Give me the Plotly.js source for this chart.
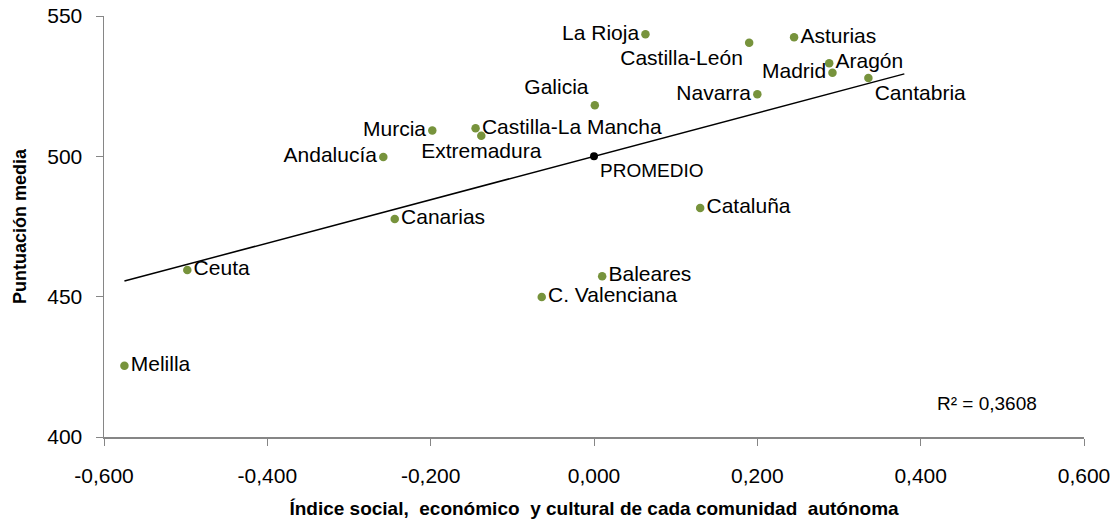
<!DOCTYPE html>
<html>
<head>
<meta charset="utf-8">
<script src="https://cdn.plot.ly/plotly-3.0.1.min.js"></script>
<style>html,body{margin:0;padding:0;background:#fff;}#chart{width:1118px;height:522px;}</style>
</head>
<body>
<div id="chart"></div>
<script>
// Data
const regions = ["Melilla","Ceuta","Andalucía","Murcia","Castilla-La Mancha","Extremadura","Galicia","La Rioja","Castilla-León","Asturias","Aragón","Madrid","Cantabria","Navarra","Cataluña","Canarias","Baleares","C. Valenciana"];
const indexValues = [-0.575,-0.498,-0.258,-0.198,-0.145,-0.138,0.001,0.063,0.190,0.245,0.288,0.292,0.336,0.200,0.130,-0.244,0.010,-0.064];
const scoreValues = [425.4,459.5,499.8,509.2,510.0,507.3,518.2,543.5,540.5,542.4,533.2,529.8,527.9,522.1,481.6,477.7,457.3,449.9];
const averageLabel = ["PROMEDIO"];
const averageIndex = [0];
const averageScore = [500];
// Trend line (as drawn in the reference): y = intercept + slope * x
const trendSlope = 77.3;
const trendIntercept = 500.0;
const trendXRange = [-0.575, 0.38];
const r2Text = "R² = 0,3608";
const xTickVals = [-0.6,-0.4,-0.2,0,0.2,0.4,0.6];
const xTickText = ["-0,600","-0,400","-0,200","0,000","0,200","0,400","0,600"];
const yTickVals = [400,450,500,550];
const yTickText = ["400","450","500","550"];

// Label placement (style only)
const labelPos = ["middle right","middle right","middle left","middle left","middle right","bottom center","top left","middle left","bottom left","middle right","middle right","middle left","bottom right","middle left","middle right","middle right","middle right","middle right"];

const font = "Liberation Sans, Arial, sans-serif";
const trendY = trendXRange.map(x => trendIntercept + trendSlope * x);

const traces = [
  {x: trendXRange, y: trendY, mode: "lines", line: {color: "#000", width: 1.5}, hoverinfo: "skip", showlegend: false},
  {x: indexValues, y: scoreValues, text: regions, mode: "markers+text", textposition: labelPos,
   marker: {color: "#77933C", size: 8.5}, textfont: {family: font, size: 21, color: "#000"}, showlegend: false},
  {x: averageIndex, y: averageScore, text: averageLabel, mode: "markers+text", textposition: "bottom right",
   marker: {color: "#000", size: 8}, textfont: {family: font, size: 19, color: "#000"}, showlegend: false}
];

const layout = {
  width: 1118, height: 522,
  margin: {l: 104, r: 34, t: 16, b: 85},
  paper_bgcolor: "#fff", plot_bgcolor: "#fff",
  xaxis: {range: [-0.6, 0.6], tickvals: xTickVals, ticktext: xTickText, showgrid: false, zeroline: false,
    showline: true, linecolor: "#868686", linewidth: 1.5, ticks: "outside", ticklen: 7, tickcolor: "#868686",
    tickfont: {family: font, size: 21, color: "#000"}, ticklabelstandoff: 12,
    title: {text: "Índice social,  económico  y cultural de cada comunidad  autónoma", font: {family: font, size: 19, color: "#000", weight: "bold"}, standoff: 16}},
  yaxis: {range: [400, 550], tickvals: yTickVals, ticktext: yTickText, showgrid: false, zeroline: false,
    showline: true, linecolor: "#868686", linewidth: 1.5, ticks: "outside", ticklen: 7, tickcolor: "#868686",
    tickfont: {family: font, size: 21, color: "#000"}, ticklabelstandoff: 9,
    title: {text: "Puntuación media", font: {family: font, size: 18, color: "#000", weight: "bold"}, standoff: 16}},
  annotations: [
    {xref: "paper", yref: "paper", x: 0.848, y: 0.08, text: r2Text, showarrow: false, xanchor: "left", yanchor: "middle",
     font: {family: font, size: 19, color: "#000"}}
  ]
};

Plotly.newPlot("chart", traces, layout, {displayModeBar: false, staticPlot: true});
</script>
</body>
</html>
